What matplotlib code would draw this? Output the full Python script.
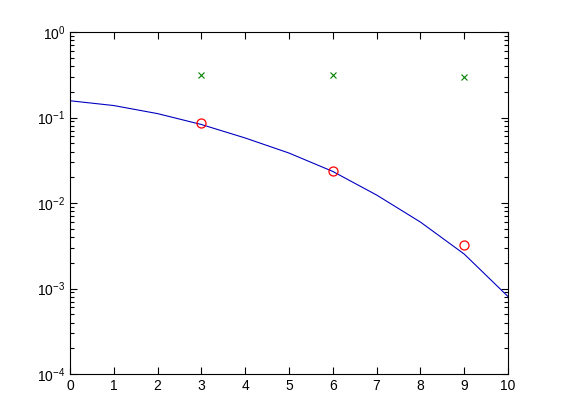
import numpy as np
import matplotlib
matplotlib.use("Agg")
import matplotlib.pyplot as plt

# fitted curve
curve_x = [0, 1, 2, 3, 4, 5, 6, 7, 8, 9, 10]
curve_y = [0.157, 0.138, 0.111, 0.0828, 0.0576, 0.0384, 0.0234,
           0.0124, 0.00599, 0.00253, 0.000806]

# sampled points
pts_x = [3, 6, 9]
circles_y = [0.0863, 0.0237, 0.00323]
crosses_y = [0.314, 0.314, 0.298]

plt.rcParams['font.family'] = ['Liberation Sans', 'DejaVu Sans']
plt.rcParams['mathtext.fontset'] = 'custom'
plt.rcParams['mathtext.rm'] = 'Liberation Sans'

fig = plt.figure(figsize=(5.61, 4.2), dpi=100)
ax = fig.add_axes([0.1248, 0.1095, 0.7807, 0.8143])

ax.semilogy(curve_x, curve_y, color='#0000c0', lw=0.8)
ax.semilogy(pts_x, circles_y, 'o', mfc='none', mec='red', ms=6.5, mew=0.9)
ax.semilogy(pts_x, crosses_y, 'x', color='#008000', ms=4, mew=0.8)

ax.set_xlim(0, 10)
ax.set_ylim(1e-4, 1e0)
ax.set_xticks(range(11))
ax.tick_params(which='both', direction='in', top=True, right=True,
               labelsize=10, width=0.8)
ax.tick_params(which='major', length=5)
ax.tick_params(which='minor', length=3)
for s in ax.spines.values():
    s.set_linewidth(0.8)

fig.savefig('out.png', dpi=100)
